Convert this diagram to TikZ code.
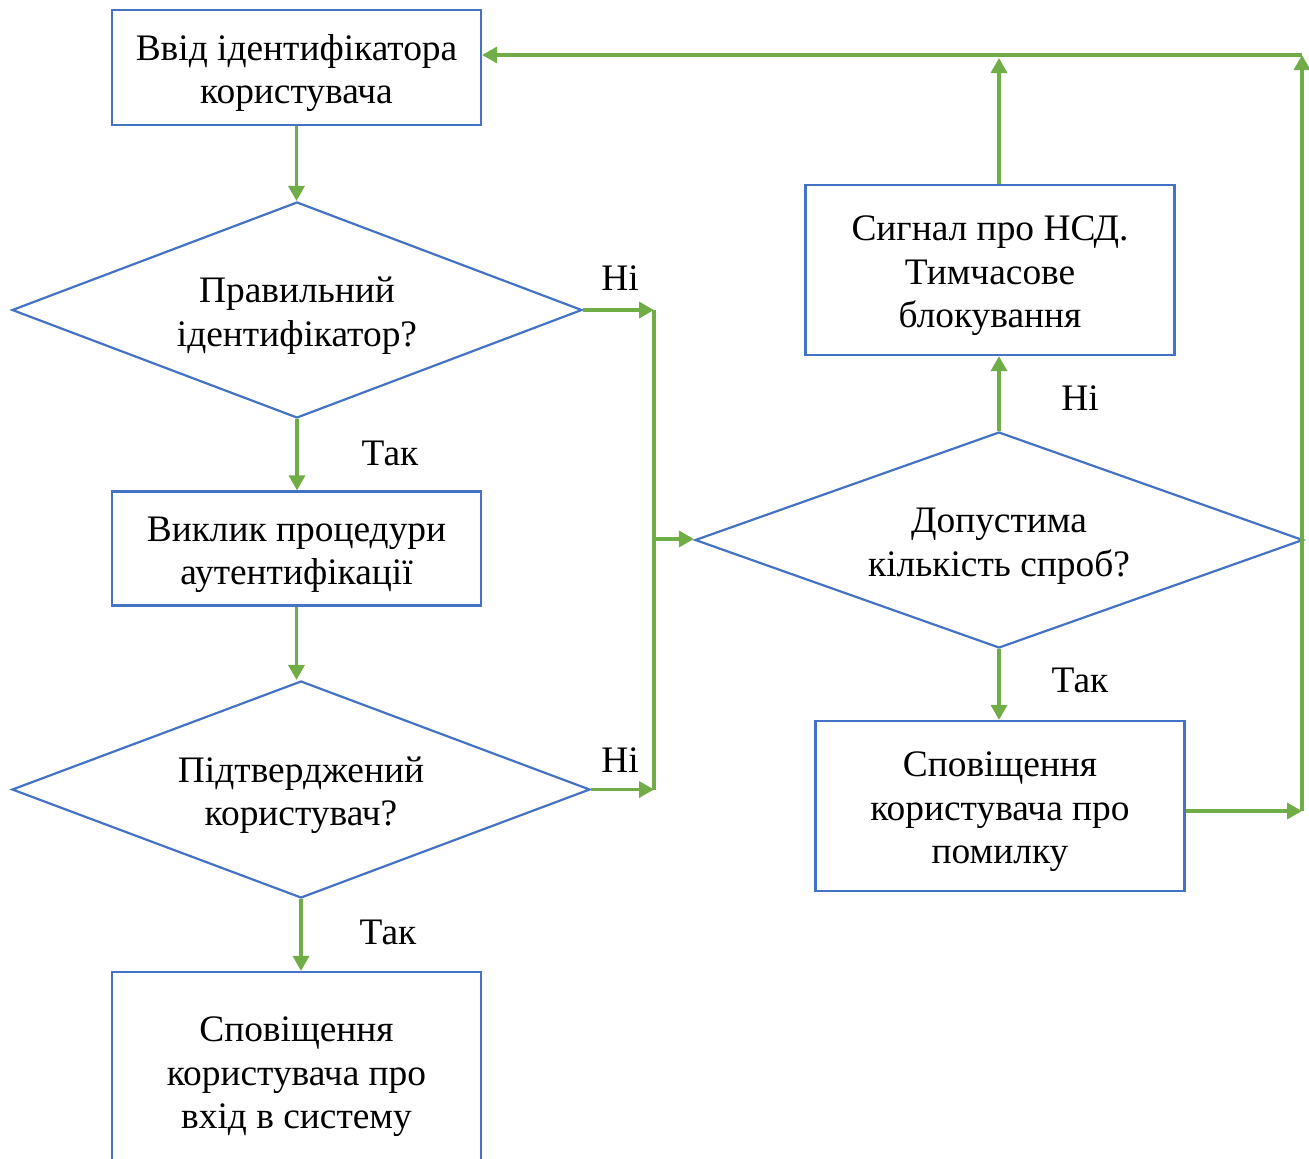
\documentclass[tikz,border=0pt]{standalone}
\usepackage{fontspec}
\setmainfont{Liberation Serif}
\newfontfamily\tnr{Liberation Serif}
\usetikzlibrary{shapes.geometric,arrows.meta,calc}
\definecolor{bblue}{HTML}{4472C4}
\definecolor{ggreen}{HTML}{70AD47}
\newcommand\mytl[1]{\raisebox{-2.8pt}[\height][\depth]{\begin{tabular}{@{}c@{}}#1\end{tabular}}}
\begin{document}
\begin{tikzpicture}[x=0.5pt,y=-0.5pt,
  txt/.style={font=\tnr\fontsize{18.7}{21.75}\selectfont},
  box/.style={txt,draw=bblue,line width=1.1pt,minimum width=184.5pt,inner sep=0pt},
  dia/.style={txt,draw=bblue,line width=1.1pt,shape=diamond,inner sep=0pt},
  conn/.style={draw=ggreen,line width=1.7pt,-{Triangle[length=7.5pt,width=8pt]}},
  gline/.style={draw=ggreen,line width=1.7pt},
  lbl/.style={txt}]
\useasboundingbox (0,0) rectangle (1309,1158);
% boxes
\node[box,minimum height=57.5pt] (b1) at (296.5,67.5) {\mytl{Ввід ідентифікатора\\користувача}};
\node[box,minimum height=57pt] (b2) at (296.5,548.5) {\mytl{Виклик процедури\\аутентифікації}};
\node[box,minimum height=99pt] (b3) at (296.5,1071) {\mytl{Сповіщення\\користувача про\\вхід в систему}};
\node[box,minimum height=85pt] (b4) at (990,270) {\mytl{Сигнал про НСД.\\Тимчасове\\блокування}};
\node[box,minimum height=85pt] (b5) at (1000,806) {\mytl{Сповіщення\\користувача про\\помилку}};
% diamonds
\node[dia,minimum width=285pt,minimum height=108pt,aspect=2.64] (d1) at (297,310) {\mytl{Правильний\\ідентифікатор?}};
\node[dia,minimum width=289pt,minimum height=108.5pt,aspect=2.66] (d2) at (301,789.5) {\mytl{Підтверджений\\користувач?}};
\node[dia,minimum width=304pt,minimum height=108pt,aspect=2.8] (d3) at (999,540) {\mytl{Допустима\\кількість спроб?}};
% junction coordinates
\coordinate (j1) at (654,310);
\coordinate (j2) at (654,789.5);
\coordinate (jm) at (654,539);
\coordinate (jr) at (1302,55);
% labels
\node[lbl] (l1) at (620,278) {Ні};
\node[lbl] (l2) at (390,453) {Так};
\node[lbl] (l3) at (620,760) {Ні};
\node[lbl] (l4) at (388,932) {Так};
\node[lbl] (l5) at (1080,398) {Ні};
\node[lbl] (l6) at (1080,680) {Так};
% connectors
\draw[conn] (b1.south) -- (b1.south |- d1.north);
\draw[conn] (d1.south) -- (d1.south |- b2.north);
\draw[conn] (b2.south) -- (b2.south |- d2.north);
\draw[conn] (d2.south) -- (d2.south |- b3.north);
\draw[conn] (d1.east) -- (j1);
\draw[conn] (d2.east) -- (j2);
\draw[gline] (j1) -- (j2);
\draw[conn] (jm) -- (jm -| d3.west);
\draw[conn] (d3.north) -- (d3.north |- b4.south);
\draw[conn] (d3.north |- b4.north) -- ($(d3.north |- jr)+(0,3)$);
\draw[conn] (d3.south) -- (d3.south |- b5.north);
\coordinate (e5) at ($(b5.east)+(0,5)$);
\draw[conn] (e5) -- (e5 -| jr);
\draw[conn] (e5 -| jr) -- (jr);
\draw[conn] (jr) -- (jr -| b1.east);
\end{tikzpicture}
\end{document}
